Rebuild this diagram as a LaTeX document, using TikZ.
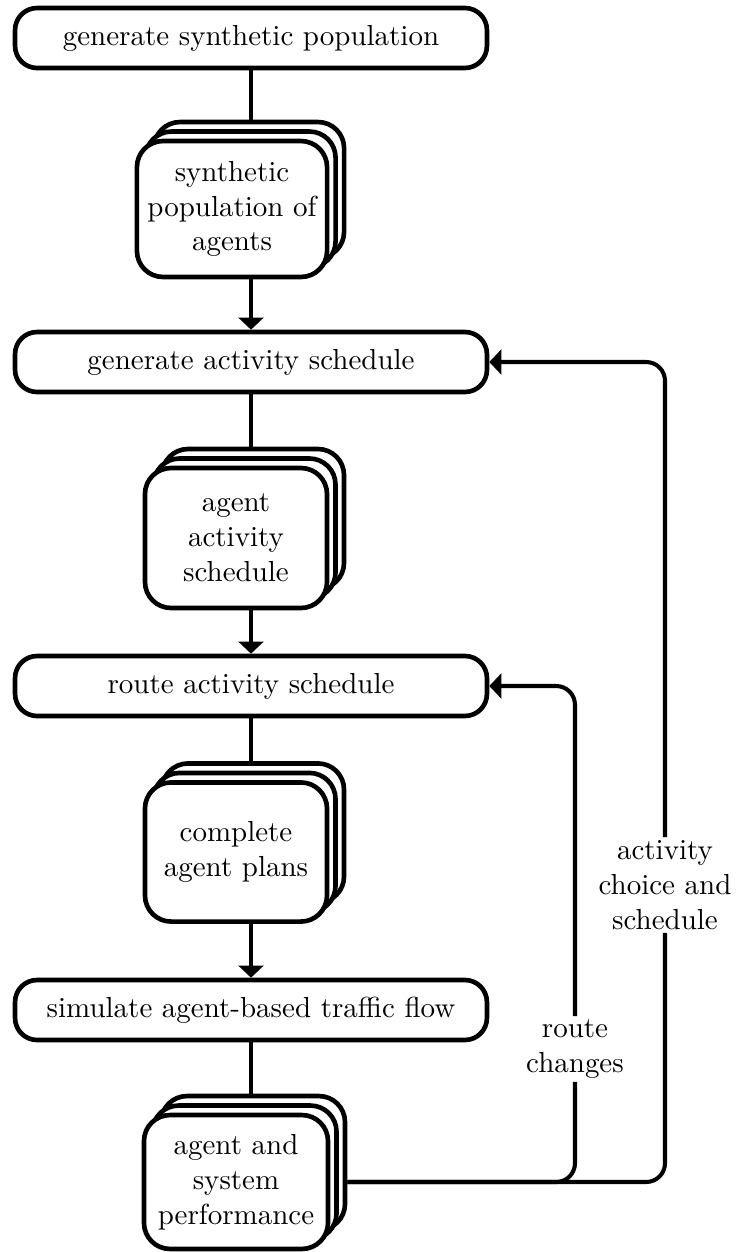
\documentclass[tikz,border=0pt]{standalone}
\usetikzlibrary{arrows.meta}
\begin{document}
\begin{tikzpicture}[x=0.345pt,y=-0.345pt]
\tikzset{
 proc/.style={draw, line width=1.6pt, rounded corners=7.6pt, minimum width=162.8pt, minimum height=20.7pt, inner sep=0pt, fill=white},
 doc/.style={draw, line width=1.6pt, rounded corners=9pt, fill=white, align=center, inner sep=2pt},
 docA/.style={doc, minimum width=65.6pt, minimum height=46.9pt},
 docB/.style={doc, minimum width=62.8pt, minimum height=48.3pt},
 docC/.style={doc, minimum width=62.8pt, minimum height=48.0pt},
 docD/.style={doc, minimum width=63.5pt, minimum height=46.2pt},
 link/.style={line width=1.4pt},
 arr/.style={link, -{Triangle[length=4.2pt,width=8.6pt]}},
 fb/.style={link, rounded corners=6.5pt},
 lab/.style={align=center, inner sep=1pt},
}
\useasboundingbox (0,0) rectangle (737,1252);

\node[proc] (box1) at (251,38) {generate synthetic population};
\node[docA] (stack1c) at (249,190) {};
\node[docA] (stack1b) at (240.5,199.5) {};
\node[docA] (stack1) at (232,209) {synthetic\\population of\\agents};

\node[proc] (box2) at (251,362) {generate activity schedule};
\node[docB] (stack2c) at (253,519) {};
\node[docB] (stack2b) at (244.5,528.5) {};
\node[docB] (stack2) at (236,538) {agent\\activity\\schedule};

\node[proc] (box3) at (251,686) {route activity schedule};
\node[docC] (stack3c) at (253,833) {};
\node[docC] (stack3b) at (244.5,842.5) {};
\node[docC] (stack3) at (236,852) {complete\\agent plans};

\node[proc] (box4) at (251,1010) {simulate agent-based traffic flow};
\node[docD] (stack4c) at (253,1163) {};
\node[docD] (stack4b) at (244.5,1172.5) {};
\node[docD] (stack4) at (236,1182) {agent and\\system\\performance};

\node[lab] (actlab) at (665,885) {activity\\choice and\\schedule};
\node[lab] (routelab) at (575,1049) {route\\changes};

\draw[link] (box1.south) -- (box1.south |- stack1c.north);
\draw[arr] (box2.north |- stack1.south) -- (box2.north);
\draw[link] (box2.south) -- (box2.south |- stack2c.north);
\draw[arr] (box3.north |- stack2.south) -- (box3.north);
\draw[link] (box3.south) -- (box3.south |- stack3c.north);
\draw[arr] (box4.north |- stack3.south) -- (box4.north);
\draw[link] (box4.south) -- (box4.south |- stack4c.north);

\draw[fb] (stack4c.east |- stack4.center) -| (actlab.south);
\draw[fb, arr] (actlab.north) |- (box2.east);
\draw[fb] (stack4c.east |- stack4.center) -| (routelab.south);
\draw[fb, arr] (routelab.north) |- (box3.east);
\end{tikzpicture}
\end{document}
